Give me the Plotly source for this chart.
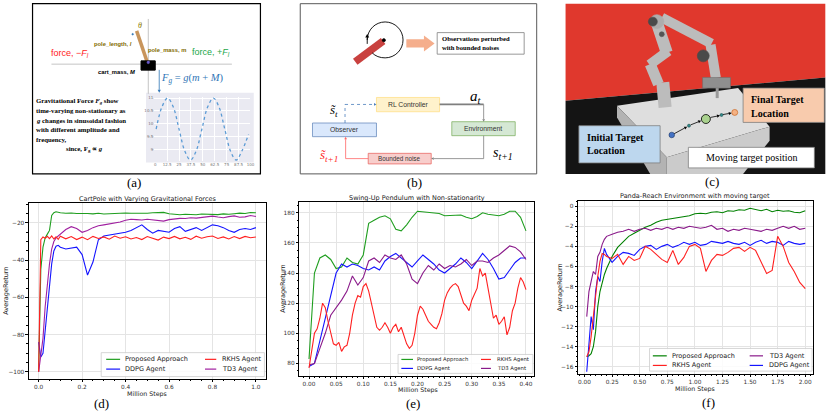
import numpy as np
import plotly.graph_objects as go

W, H = 830, 415

# ---------------- data ----------------
# (d) CartPole with varying gravitational forces
d_x = [0, 0.005, 0.01, 0.02, 0.03, 0.04, 0.05, 0.06, 0.07, 0.08, 0.09,
       0.1, 0.125, 0.15, 0.175, 0.2, 0.225, 0.25, 0.275, 0.3, 0.325, 0.35, 0.375,
       0.4, 0.425, 0.45, 0.475, 0.5, 0.525, 0.55, 0.575, 0.6, 0.625, 0.65, 0.675,
       0.7, 0.725, 0.75, 0.775, 0.8, 0.825, 0.85, 0.875, 0.9, 0.925, 0.95, 0.975, 1.0]
d_prop = [-100, -70, -45, -33, -28, -26, -24, -16, -14.5, -14, -14.3,
          -14.5, -14.8, -14.6, -14.9, -14.7, -14.9, -15.1, -14.8, -15.2, -15.0, -14.7, -14.9,
          -14.6, -14.8, -14.9, -14.6, -14.8, -14.5, -14.4, -14.3, -15.0, -15.4, -15.6, -15.3,
          -15.5, -15.6, -15.2, -15.4, -15.3, -15.5, -15.1, -15.3, -15.0, -14.7, -14.9, -14.4, -14.5]
d_ddpg = [-84, -88, -92, -90, -78, -66, -54, -42, -35, -32.5, -32,
          -33, -34, -33.5, -33, -37, -48, -41, -29, -27, -26.5, -26, -25.5,
          -25, -24, -22.5, -21, -23.5, -25.5, -24, -24.5, -25, -23, -22, -24.5,
          -23.5, -22.5, -24, -22.5, -21, -21.5, -22.5, -24, -25, -23.5, -23, -23.5, -22.5]
d_rkhs = [-100, -60, -29, -27.5, -28.2, -27.2, -28.4, -27.0, -28.6, -27.4, -28.8,
          -27.1, -28.5, -27.3, -28.9, -27.6, -29.0, -27.2, -28.3, -27.5, -28.7, -27.0, -28.2,
          -27.4, -28.6, -27.8, -28.9, -27.3, -28.1, -29.2, -27.6, -28.4, -27.2, -28.5, -27.7,
          -28.8, -27.1, -28.2, -27.4, -27.0, -28.3, -27.5, -28.6, -27.3, -28.4, -27.2, -27.9, -27.5]
d_td3 = [-100, -96, -90, -82, -65, -52, -42, -34, -30, -28, -27,
         -26, -23.5, -22, -23, -25, -24, -22.5, -21.5, -21, -20.5, -20, -19.5,
         -18.5, -18, -18.2, -18.4, -18, -18.3, -18.6, -19, -18.2, -17.8, -17.5, -17.6,
         -17.2, -17.4, -17.0, -16.8, -16.3, -16.8, -17.2, -16.6, -16.2, -16.9, -16.7, -16.0, -16.5]

# (e) Swing-up pendulum with non-stationarity
e_x = [0.00, 0.01, 0.02, 0.03, 0.04, 0.05, 0.06, 0.07, 0.08, 0.09, 0.10,
       0.11, 0.12, 0.13, 0.14, 0.15, 0.16, 0.17, 0.18, 0.19, 0.20,
       0.21, 0.22, 0.23, 0.24, 0.25, 0.26, 0.27, 0.28, 0.29, 0.30,
       0.31, 0.32, 0.33, 0.34, 0.35, 0.36, 0.37, 0.38, 0.39, 0.40]
e_prop = [83, 140, 150, 152, 149, 143, 144, 150, 147, 146, 152,
          173, 175, 177, 178, 176, 169, 168, 172, 177, 181,
          180.5, 180, 179.5, 179.5, 178, 178, 178, 178.5, 177, 176,
          177.5, 180, 179, 178.5, 178, 179, 181, 181, 177, 168]
e_ddpg = [78, 80, 95, 110, 125, 140, 146, 144, 146, 145, 143,
          142, 144, 142, 148, 151, 153, 150, 147, 144, 148,
          152, 149, 146, 142, 140, 143, 146, 150, 147, 143,
          148, 153, 149, 143, 136, 137, 142, 147, 150, 150]
e_td3 = [79, 80, 90, 100, 112, 117, 122, 128, 138, 132, 137,
         148, 150, 147, 152, 150, 149, 152, 146, 136, 133,
         140, 145, 142, 146, 143, 145, 144, 146, 149, 145,
         148, 148, 147, 150, 152, 155, 158, 157, 154, 149]
e_x_fine = np.round(np.arange(81) * 0.005, 3)
e_rkhs = [77, 88, 100, 103, 110, 120, 117, 108, 100, 93, 92, 94, 88, 91, 92, 100,
          112, 120, 125, 124, 131, 133, 128, 120, 110, 104, 102, 104, 107, 104, 100,
          104, 106, 101, 104, 98, 93, 90, 92, 100, 112, 118, 116, 112, 108, 106, 104,
          103, 107, 113, 122, 127, 130, 132, 133, 131, 125, 120, 118, 115, 122, 126,
          130, 143, 138, 140, 130, 120, 110, 112, 106, 108, 111, 99, 104, 115, 120,
          130, 137, 134, 129]

# (f) Panda-Reach environment with moving target
f_x = [0.02, 0.04, 0.06, 0.08, 0.1, 0.12, 0.14, 0.16, 0.18, 0.2,
       0.25, 0.3, 0.35, 0.4, 0.45, 0.5, 0.55, 0.6, 0.65, 0.7, 0.75, 0.8,
       0.85, 0.9, 0.95, 1.0, 1.05, 1.1, 1.15, 1.2, 1.25, 1.3, 1.35, 1.4,
       1.45, 1.5, 1.55, 1.6, 1.65, 1.7, 1.75, 1.8, 1.85, 1.9, 1.95, 2.0]
f_prop = [-15, -14.9, -14.7, -14, -12.5, -10, -8.5, -7.5, -6.8, -6.2,
          -5.0, -4.1, -3.5, -3.0, -2.7, -2.4, -2.1, -1.9, -1.6, -1.4, -1.3, -1.2,
          -1.1, -1.0, -0.95, -0.75, -0.7, -0.75, -0.6, -0.55, -0.65, -0.45, -0.5, -0.35,
          -0.4, -0.2, -0.3, -0.45, -0.3, -0.55, -0.4, -0.5, -0.45, -0.6, -0.65, -0.45]
f_rkhs = [-15, -14.5, -13, -11, -8.5, -7, -5.5, -4.7, -4.8, -5.0,
          -5.2, -4.8, -5.8, -5.0, -5.4, -5.2, -4.0, -4.3, -4.8, -5.3, -5.6, -4.4,
          -5.8, -5.1, -4.0, -3.8, -4.2, -6.5, -5.4, -4.8, -4.9, -4.6, -4.2, -4.1,
          -4.5, -4.1, -4.4, -5.6, -6.7, -6.4, -3.0, -4.0, -5.6, -6.5, -7.6, -8.2]
f_td3 = [-11, -8.5, -7.5, -6.5, -6.8, -5, -4.6, -3.8, -3.3, -3.0,
         -2.8, -2.6, -2.5, -2.3, -2.5, -2.3, -2.2, -2.4, -2.2, -2.3, -2.1, -2.3,
         -2.1, -2.2, -2.0, -2.1, -2.2, -2.1, -1.9, -2.3, -2.2, -2.5, -2.3, -2.4,
         -2.2, -2.3, -2.4, -2.5, -2.3, -2.4, -2.2, -2.0, -2.2, -2.0, -2.3, -2.2]
f_ddpg = [-16.5, -14, -11, -12.3, -8.5, -7, -7.5, -5.5, -4.2, -4.8,
          -5.6, -5.0, -4.6, -4.7, -4.9, -4.3, -4.0, -3.9, -4.3, -4.0, -3.8, -4.1,
          -3.9, -3.6, -3.8, -3.6, -3.9, -3.8, -3.5, -3.6, -3.7, -3.5, -3.7, -3.8,
          -3.6, -3.9, -3.6, -3.4, -3.7, -3.5, -3.6, -3.9, -3.5, -3.7, -3.8, -3.7]

# small gravity curve in panel (a)
g_t = [1, 7, 13, 19, 25, 31, 37, 43, 49, 55, 61, 67, 73, 79, 85, 91, 98]
g_val = [9.8, 10.65, 11.0, 10.65, 9.8, 8.95, 8.6, 8.95, 9.8, 10.65, 11.0,
         10.65, 9.8, 8.95, 8.6, 8.95, 9.6]

GREEN, BLUE, RED, PURPLE = "#1f9e1f", "#1414ff", "#ff2020", "#8a1a8a"

# ---------------- helpers (pixel -> paper) ----------------
def X(p):
    return p / W


def Y(p):
    return 1 - p / H


shapes, annos = [], []


def box(x0, y0, x1, y1, fill="rgba(0,0,0,0)", line="black", lw=1, layer="above"):
    shapes.append(dict(type="rect", xref="paper", yref="paper", x0=X(x0), x1=X(x1),
                       y0=Y(y1), y1=Y(y0), fillcolor=fill, layer=layer,
                       line=dict(color=line, width=lw)))


def seg(x0, y0, x1, y1, color="black", lw=1, dash="solid"):
    shapes.append(dict(type="line", xref="paper", yref="paper", x0=X(x0), y0=Y(y0),
                       x1=X(x1), y1=Y(y1), layer="above",
                       line=dict(color=color, width=lw, dash=dash)))


def poly(pts, fill, line="rgba(0,0,0,0)", lw=0):
    p = "M " + " L ".join(f"{X(a):.5f},{Y(b):.5f}" for a, b in pts) + " Z"
    shapes.append(dict(type="path", xref="paper", yref="paper", path=p, fillcolor=fill,
                       layer="above", line=dict(color=line, width=lw)))


def dot(cx, cy, r, fill, line="black", lw=0.6):
    shapes.append(dict(type="circle", xref="paper", yref="paper", x0=X(cx - r), x1=X(cx + r),
                       y0=Y(cy + r), y1=Y(cy - r), fillcolor=fill, layer="above",
                       line=dict(color=line, width=lw)))


def txt(x, y, s, size=7, color="black", family="DejaVu Sans", xa="center", angle=0):
    annos.append(dict(x=X(x), y=Y(y), xref="paper", yref="paper", text=s, showarrow=False,
                      font=dict(size=size, color=color, family=family), xanchor=xa,
                      yanchor="middle", textangle=angle, borderpad=0))


def arrow(x0, y0, x1, y1, color="black", lw=0.8, hl=3.5, hw=2.0, dash="solid"):
    # shaft plus a filled triangular head, all in pixel coordinates
    dx, dy = x1 - x0, y1 - y0
    n = float(np.hypot(dx, dy))
    ux, uy = dx / n, dy / n
    bx, by = x1 - ux * hl, y1 - uy * hl
    seg(x0, y0, bx, by, color, lw, dash)
    poly([(x1, y1), (bx - uy * hw, by + ux * hw), (bx + uy * hw, by - ux * hw)], color)


def cz(zx, zy):
    # coordinates measured on the 3x crop of panel (c)
    return 560 + zx / 3, zy / 3


def legend(x0, y0, x1, y1, cols, rows, entries, size):
    box(x0, y0, x1, y1, fill="rgba(255,255,255,0.85)", line="#cccccc", lw=0.8)
    for (c, r, color, label) in entries:
        lx0, lx1, tx = cols[c]
        seg(lx0, rows[r], lx1, rows[r], color, 1.2)
        txt(tx, rows[r], label, size, "#222", xa="left")


# ---------------- traces ----------------
fig = go.Figure()
series = [
    ("", d_x, d_prop, GREEN), ("2", e_x, e_prop, GREEN), ("3", f_x, f_prop, "#008000"),
    ("", d_x, d_ddpg, BLUE), ("2", e_x, e_ddpg, BLUE), ("3", f_x, f_ddpg, BLUE),
    ("", d_x, d_td3, "#a020a0"), ("2", e_x, e_td3, PURPLE), ("3", f_x, f_td3, PURPLE),
    ("", d_x, d_rkhs, RED), ("2", e_x_fine, e_rkhs, RED), ("3", f_x, f_rkhs, RED),
]
for ax, xs, ys, col in series:
    fig.add_trace(go.Scatter(x=xs, y=ys, mode="lines", xaxis="x" + ax, yaxis="y" + ax,
                             line=dict(color=col, width=1.1), hoverinfo="skip"))

fig.add_trace(go.Scatter(x=g_t, y=g_val, mode="lines", xaxis="x4", yaxis="y4",
                         line=dict(color="#5b9bd5", width=1.3, dash="dot", shape="spline"),
                         hoverinfo="skip"))


def axis(domain, rng, dtick, fmt, minor, anchor):
    return dict(domain=domain, range=rng, dtick=dtick, tick0=0, tickformat=fmt, anchor=anchor,
                showline=True, linecolor="black", linewidth=0.8, mirror=True,
                ticks="outside", ticklen=2.5, tickwidth=0.6, tickcolor="black",
                showgrid=True, gridcolor="#e4e4e4", gridwidth=0.6, zeroline=False,
                tickfont=dict(size=5.8, color="#333", family="DejaVu Sans"),
                minor=dict(dtick=minor, ticks="outside", ticklen=1.5, tickwidth=0.5,
                           tickcolor="black", showgrid=False))


mini = dict(showline=False, zeroline=False, gridcolor="white", gridwidth=0.6, ticks="",
            tickfont=dict(size=4, color="#777"))
layout_axes = dict(
    xaxis=axis([X(29), X(267)], [-0.045, 1.045], 0.2, ".1f", 0.05, "y"),
    yaxis=axis([Y(379), Y(202)], [-103.9, -9], 20, "d", 5, "x"),
    xaxis2=axis([X(300.7), X(536.7)], [-0.018, 0.415], 0.05, ".2f", 0.01, "y2"),
    yaxis2=axis([Y(375.7), Y(201.7)], [71.8, 187], 20, "d", 5, "x2"),
    xaxis3=axis([X(580.7), X(816.7)], [-0.06, 2.068], 0.25, ".2f", 0.05, "y3"),
    yaxis3=axis([Y(374), Y(200)], [-16.73, 0.57], 2, "d", 0.5, "x3"),
    xaxis4=dict(domain=[X(155), X(251.7)], range=[-1, 100], anchor="y4", dtick=12.5, **mini),
    yaxis4=dict(domain=[Y(160.7), Y(96)], range=[8.55, 11.05], anchor="x4", dtick=0.5,
                **mini),
)

# ---------------- chart texts and legends ----------------
titles = [(148, 198.5, "CartPole with Varying Gravitational Forces"),
          (418.7, 197.5, "Swing-Up Pendulum with Non-stationarity"),
          (698.7, 195.5, "Panda-Reach Environment with moving target")]
for x, y, t in titles:
    txt(x, y, t, 6.5, "#222")
for x, y in [(148, 393.5), (420, 390), (698.7, 388.5)]:
    txt(x, y, "Million Steps", 6.3, "#222")
for x, y0, y1 in [(6, 202, 379), (284, 201.7, 375.7), (563, 200, 374)]:
    txt(x, (y0 + y1) / 2, "AverageReturn", 6.5, "#222", angle=-90)

legend(101.7, 352.5, 265.7, 376.5, [(106.7, 120.7, 125), (206, 217.3, 221.7)], [359.2, 369],
       [(0, 0, GREEN, "Proposed Approach"), (0, 1, BLUE, "DDPG Agent"),
        (1, 0, RED, "RKHS Agent"), (1, 1, "#a020a0", "TD3 Agent")], 6.5)
legend(400, 354.3, 535.5, 373.3, [(403.3, 415, 418.3), (483.3, 493.3, 498.3)], [359.3, 368.3],
       [(0, 0, GREEN, "Proposed Approach"), (0, 1, BLUE, "DDPG Agent"),
        (1, 0, RED, "RKHS Agent"), (1, 1, PURPLE, "TD3 Agent")], 5.3)
legend(652.7, 348.3, 816, 371, [(656, 670, 674.3), (753.3, 766.7, 771.7)], [355.7, 365.3],
       [(0, 0, "#008000", "Proposed Approach"), (0, 1, RED, "RKHS Agent"),
        (1, 0, PURPLE, "TD3 Agent"), (1, 1, BLUE, "DDPG Agent")], 6.5)

SERIF = "Liberation Serif"
for x, y, t in [(135, 182, "(a)"), (417, 182, "(b)"), (715, 181, "(c)"),
                (102, 403, "(d)"), (415, 403, "(e)"), (712, 402, "(f)")]:
    txt(x, y, t, 13, "black", SERIF)

# ---------------- panel (a): cart-pole sketch ----------------
box(32.7, 2.7, 261.7, 173.3, line="black", lw=1.2)
box(146.7, 92, 255, 162, fill="#eaeaf2", line="rgba(0,0,0,0)", lw=0, layer="below")
seg(51.7, 63.3, 233, 63.3, "#b5b5b5", 0.8)
seg(149, 18, 149, 93, "#b5b5b5", 0.8)
seg(148.3, 62.3, 137.3, 30, "#c8955c", 3.5)
box(141.7, 60, 156, 69.3, fill="black", line="black")
dot(149, 61.5, 1.3, "#6a5acd", "#6a5acd")
dot(133.3, 33.3, 0.8, "#2e75b6", "#2e75b6")
txt(140.7, 25, "<i>θ</i>", 8, "#8b7d00", SERIF)
txt(113.3, 43.3, "<b>pole_length, <i>l</i></b>", 5.8, "#7f6a00", "Liberation Sans")
txt(168, 49, "<b>pole_mass, m</b>", 5.8, "#7f6a00", "Liberation Sans")
txt(70, 52.3, "force, −<i>F<sub>l</sub></i>", 9, "#ff1a1a", "Liberation Sans")
txt(211.7, 51.7, "force, +<i>F<sub>l</sub></i>", 9, "#22a64a", "Liberation Sans")
txt(116.7, 70.7, "<b>cart_mass, <i>M</i></b>", 5.8, "black", "Liberation Sans")
arrow(160, 69, 160, 92, "#2e75b6", 0.8, 3, 1.6)
txt(193.3, 77.3, "<i>F<sub>g</sub></i> = <i>g</i>(<i>m</i> + <i>M</i>)", 10.5, "#2e75b6", SERIF)
for y, t in [(100, "Gravitational Force <i>F<sub>g</sub></i> show"),
             (110, "time-varying non-stationary as"),
             (119.5, "<i>g</i> changes in sinusoidal fashion"),
             (129.3, "with different amplitude and"),
             (138.7, "frequency,")]:
    txt(35, y, "<b>" + t + "</b>", 6.8, "black", SERIF, xa="left")
txt(65.7, 148.3, "<b>since, F<sub>g</sub> ∝ <i>g</i></b>", 6.8, "black", SERIF, xa="left")

# ---------------- panel (b): noisy observation loop ----------------
box(301.7, 2.7, 539.3, 173.3, line="#595959", lw=1)
seg(357, 61, 385, 40, "#c9413f", 7.5)
dot(385.7, 39.3, 1.6, "black")
k = 0.5523 * 18
arc = (f"M {X(369):.5f},{Y(39):.5f} "
       f"C {X(369):.5f},{Y(39 - k):.5f} {X(387 - k):.5f},{Y(21):.5f} {X(387):.5f},{Y(21):.5f} "
       f"C {X(387 + k):.5f},{Y(21):.5f} {X(405):.5f},{Y(39 - k):.5f} {X(405):.5f},{Y(39):.5f} "
       f"C {X(405):.5f},{Y(39 + k):.5f} {X(387 + k):.5f},{Y(57):.5f} {X(387):.5f},{Y(57):.5f} "
       f"Q {X(379):.5f},{Y(57):.5f} {X(374):.5f},{Y(52):.5f}")
shapes.append(dict(type="path", xref="paper", yref="paper", path=arc, layer="above",
                   line=dict(color="black", width=0.9)))
arrow(369, 43, 369, 33, "black", 0.9, 3.5, 2.0)
poly([(408.3, 38.3), (426, 38.3), (426, 34.5), (436.7, 42.5), (426, 50.5), (426, 46.7),
      (408.3, 46.7)], "#f5ae8c")
box(439.3, 31.7, 526.7, 53.3, fill="white", line="#7f7f7f", lw=0.8)
txt(442.7, 37.5, "<b>Observations perturbed</b>", 6.6, "black", SERIF, xa="left")
txt(442.7, 46.7, "<b>with bounded noises</b>", 6.6, "black", SERIF, xa="left")

box(378.3, 96.7, 441.7, 111, fill="#fff2cc", line="#ffe08a", lw=0.8)
txt(410, 103.9, "RL Controller", 6.8, "#333", "Liberation Sans")
box(314, 122.3, 378.3, 136, fill="#dae8fc", line="#6c8ebf", lw=0.8)
txt(346.2, 129.2, "Observer", 6.8, "#333", "Liberation Sans")
box(454, 121, 517.7, 135, fill="#d5e8d4", line="#82b366", lw=0.8)
txt(485.8, 128, "Environment", 6.8, "#333", "Liberation Sans")
box(370, 152.7, 433.3, 163.3, fill="#f8cecc", line="#ea6b66", lw=0.8)
txt(401.7, 158, "Bounded noise", 6.3, "#333", "Liberation Sans")
seg(346.7, 122.3, 346.7, 103.7, "#4a7ebb", 0.8, "dot")
arrow(346.7, 103.7, 378.3, 103.7, "#4a7ebb", 0.8, 2.5, 1.4, "dot")
seg(441.7, 103.7, 486, 103.7, "#7f7f7f", 1.8)
arrow(486, 103.7, 486, 121, "#7f7f7f", 0.8, 2.5, 1.4)
seg(486, 135, 486, 158, "#7f7f7f", 0.8)
arrow(486, 158, 433.3, 158, "#7f7f7f", 0.8, 2.5, 1.4)
seg(370, 158, 347.3, 158, "#ff6666", 0.8)
arrow(347.3, 158, 347.3, 136, "#ff6666", 0.8, 2.5, 1.4)
txt(478, 96.5, "<i>a<sub>t</sub></i>", 15, "black", SERIF)
txt(505, 153.3, "<i>s<sub>t+1</sub></i>", 14, "black", SERIF)
txt(331, 154.5, "<i>s̃<sub>t+1</sub></i>", 13, "#ff1a1a", SERIF)
txt(336, 109.5, "<i>s̃<sub>t</sub></i>", 13, "black", SERIF)

# ---------------- panel (c): Panda reach scene ----------------
poly([(568.3, 2.7), (829.3, 2.7), (829.3, 76.7), (568.3, 100)], "#e0382d")
poly([(568.3, 100), (829.3, 76.7), (829.3, 173.3), (568.3, 173.3)], "#141414")
poly([cz(180, 315), cz(545, 262), cz(640, 378), cz(330, 470)], "#dedede")
poly([cz(180, 315), cz(330, 470), cz(330, 520), cz(280, 520), cz(180, 350)], "#b3b3b3")
poly([cz(330, 470), cz(640, 378), cz(640, 420), cz(560, 520), cz(330, 520)], "#cbcbcb")
for (a, b, w) in [((325, 320), (318, 245), 13), ((305, 250), (280, 190), 11),
                  ((278, 192), (335, 150), 10), ((330, 155), (300, 65), 12),
                  ((315, 50), (465, 128), 10), ((462, 132), (478, 232), 10)]:
    p0, p1 = cz(*a), cz(*b)
    seg(p0[0], p0[1], p1[0], p1[1], "#bcbcbc", w)
for (zx, zy, r, col) in [(300, 62, 7, "#adadad"), (288, 62, 4.5, "#4a4a4a"),
                         (440, 165, 6, "#4a4a4a"), (315, 100, 2.5, "#555555")]:
    cx, cy = cz(zx, zy)
    dot(cx, cy, r, col, col)
g0, g1 = cz(438, 230), cz(522, 262)
box(g0[0], g0[1], g1[0], g1[1], fill="#8f8f8f", line="#6f6f6f", lw=0.6)
seg(*cz(482, 262), *cz(482, 292), "#9a9a9a", 3)

dot(675, 134.3, 2.8, "#4472c4", "#1f3864")
dot(692.3, 125, 1.5, "#2e8b8b", "#1f4e4e")
dot(709.3, 118.3, 4.5, "#a9d18e", "black", 0.8)
dot(725, 114.3, 1.5, "#2e8b8b", "#1f4e4e")
dot(738.3, 111.7, 3, "#f4b183", "#c55a11")
arrow(677.5, 133, 690.5, 126, "black", 0.8, 3, 1.6)
arrow(694, 124.2, 704.5, 120, "black", 0.8, 3, 1.6)
arrow(714, 116.7, 723.5, 114.8, "black", 0.8, 3, 1.6)
arrow(726.5, 113.8, 735.3, 112.3, "black", 0.8, 3, 1.6)

box(746.7, 87.3, 828.3, 121.7, fill="#f8cbad", line="#7f7f7f", lw=0.8)
txt(754, 98.3, "<b>Final Target</b>", 10, "black", SERIF, xa="left")
txt(754, 112.3, "<b>Location</b>", 10, "black", SERIF, xa="left")
box(581.7, 125, 663.3, 162.3, fill="#bdd7ee", line="#7f7f7f", lw=0.8)
txt(589.3, 136.7, "<b>Initial Target</b>", 10, "black", SERIF, xa="left")
txt(589.3, 150.3, "<b>Location</b>", 10, "black", SERIF, xa="left")
box(691.7, 146.7, 818.3, 167.3, fill="white", line="#7f7f7f", lw=0.8)
txt(755, 157, "Moving target position", 10, "black", SERIF)

fig.update_layout(
    width=W, height=H, margin=dict(l=0, r=0, t=0, b=0),
    paper_bgcolor="white", plot_bgcolor="rgba(0,0,0,0)",
    showlegend=False, shapes=shapes, annotations=annos,
    font=dict(family="DejaVu Sans", size=6, color="#222"),
    **layout_axes,
)

fig.write_html("out.html", config={"displayModeBar": False},
               post_script="document.body.style.margin='0px';"
                           "document.body.style.overflow='hidden';")
